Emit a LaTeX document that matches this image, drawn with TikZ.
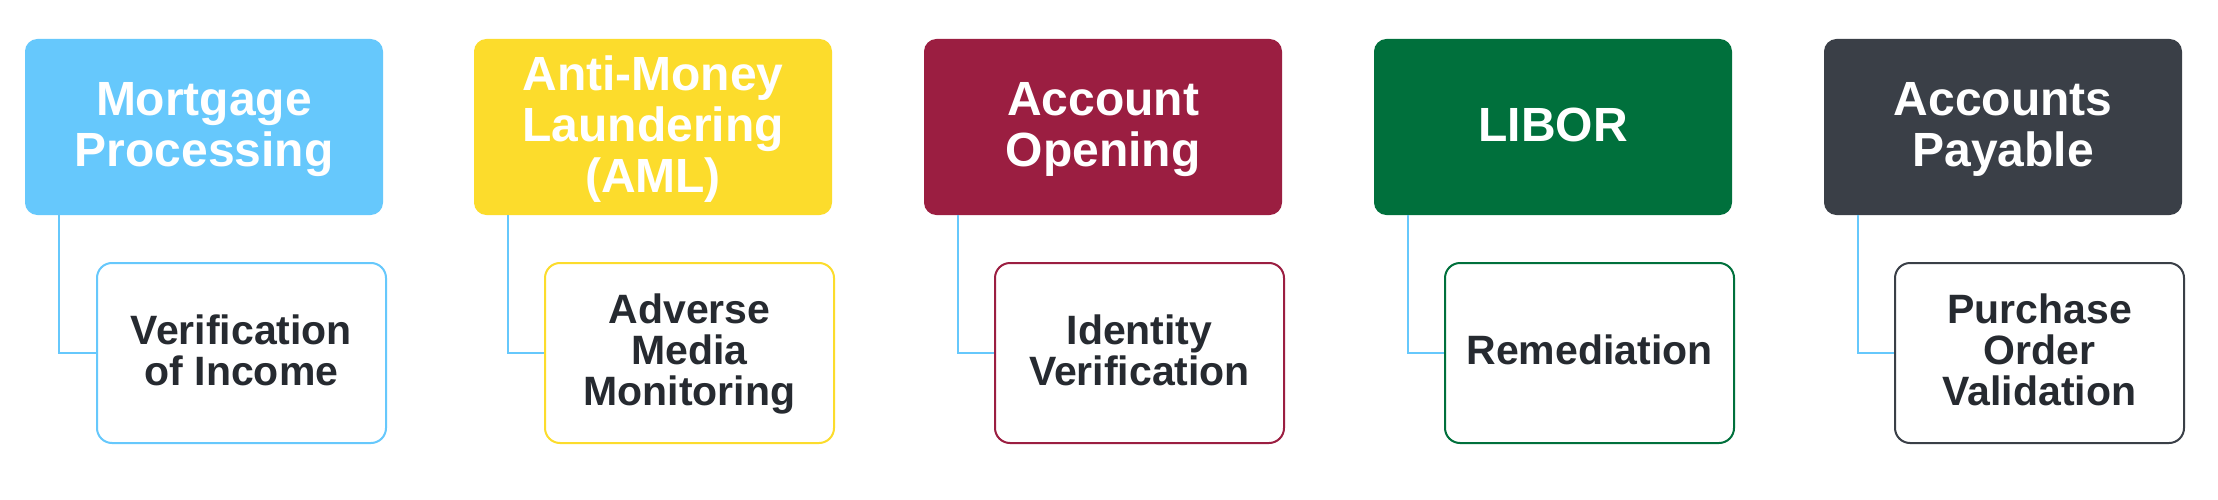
\documentclass[tikz,border=0pt]{standalone}
\usepackage{fontspec}
\setmainfont{Liberation Sans}
\definecolor{cMort}{RGB}{102,200,252}
\definecolor{cAml}{RGB}{252,220,44}
\definecolor{cAcc}{RGB}{155,30,65}
\definecolor{cLib}{RGB}{0,112,60}
\definecolor{cAp}{RGB}{58,63,71}
\definecolor{cLink}{RGB}{102,200,252}
\definecolor{cText}{RGB}{38,42,48}
% one line of text with uniform height (cap height) and depth (6pt)
\newcommand\mkln[1]{\smash{#1}\rule[-6pt]{0pt}{\dimexpr0.716em+6pt\relax}}
\tikzset{
  topbox/.style={rounded corners=12pt, fill=#1, draw=#1, line width=1pt,
    minimum width=357pt, minimum height=175pt, inner sep=0pt, anchor=north west,
    align=center, text=white, font=\bfseries\fontsize{48}{51}\selectfont},
  subbox/.style={rounded corners=15pt, fill=white, draw=#1, line width=2pt,
    minimum width=289pt, minimum height=180pt, inner sep=0pt, anchor=north west,
    align=center, text=cText, font=\bfseries\fontsize{41}{41}\selectfont},
  link/.style={draw=cLink, line width=1.6pt}
}
\begin{document}
\begin{tikzpicture}[x=1pt,y=-1pt]
\fill[white] (0,0) rectangle (2218,500);
\useasboundingbox (0,0) rectangle (2218,500);
% top boxes
\node[topbox=cMort] (t1) at (25,39) {\mkln{Mortgage}\\\mkln{Processing}};
\node[topbox=cAml]  (t2) at (474,39) {\mkln{Anti-Money}\\\mkln{Laundering}\\\mkln{(AML)}};
\node[topbox=cAcc]  (t3) at (924,39) {\mkln{Account}\\\mkln{Opening}};
\node[topbox=cLib]  (t4) at (1374,39) {\mkln{LIBOR}};
\node[topbox=cAp]   (t5) at (1824,39) {\mkln{Accounts}\\\mkln{Payable}};
% sub boxes
\node[subbox=cMort] (s1) at (96,262) {\mkln{Verification}\\\mkln{of Income}};
\node[subbox=cAml]  (s2) at (544,262) {\mkln{Adverse}\\\mkln{Media}\\\mkln{Monitoring}};
\node[subbox=cAcc]  (s3) at (994,262) {\mkln{Identity}\\\mkln{Verification}};
\node[subbox=cLib]  (s4) at (1444,262) {\mkln{Remediation}};
\node[subbox=cAp]   (s5) at (1894,262) {\mkln{Purchase}\\\mkln{Order}\\\mkln{Validation}};
% connectors
\foreach \i in {1,...,5}{
  \draw[link] ([xshift=34pt]t\i.south west) |- (s\i.west);
}
\end{tikzpicture}
\end{document}
